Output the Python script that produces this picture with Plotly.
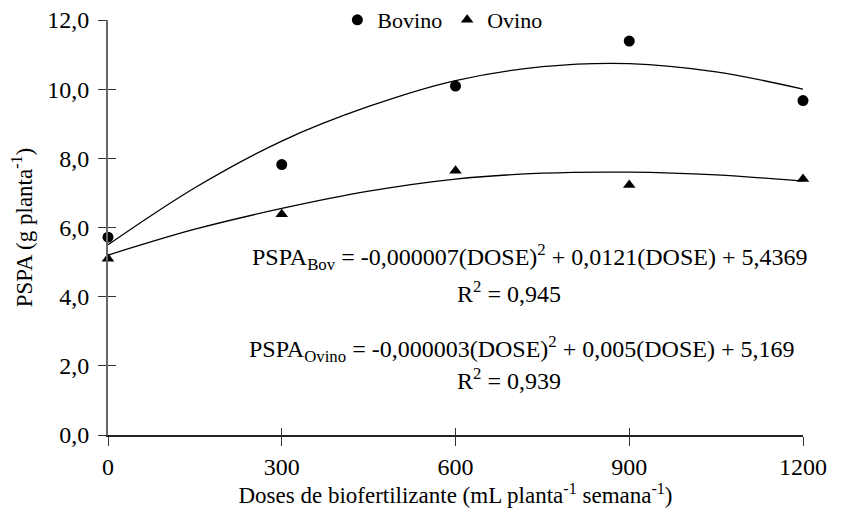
import plotly.graph_objects as go

# doses (mL planta-1 semana-1)
doses = [0, 300, 600, 900, 1200]
bovino = [5.72, 7.82, 10.09, 11.39, 9.67]
ovino = [5.10, 6.38, 7.64, 7.23, 7.40]

# fitted curves
curve_x = [0, 150, 300, 450, 600, 750, 900, 1050, 1200]
curve_bovino = [5.50, 7.15, 8.50, 9.50, 10.25, 10.65, 10.74, 10.50, 10.00]
curve_ovino = [5.20, 5.95, 6.55, 7.05, 7.40, 7.57, 7.60, 7.52, 7.34]

y_ticks = [0, 2, 4, 6, 8, 10, 12]

FONT = "Liberation Serif"
font24 = dict(family=FONT, size=24, color="black")
font23 = dict(family=FONT, size=23, color="black")

fig = go.Figure()

for ys in (curve_bovino, curve_ovino):
    fig.add_trace(go.Scatter(
        x=curve_x, y=ys, mode="lines", line=dict(color="black", width=1.3, shape="spline"),
        showlegend=False, hoverinfo="skip"
    ))

fig.add_trace(go.Scatter(
    x=doses, y=bovino, mode="markers", name="Bovino",
    marker=dict(symbol="circle", size=11, color="black"), cliponaxis=False
))
fig.add_trace(go.Scatter(
    x=doses, y=ovino, mode="markers", name="Ovino",
    marker=dict(symbol="triangle-up", size=11, color="black"), cliponaxis=False
))

# invisible trace so the overlay axes (inner tick halves) get drawn
fig.add_trace(go.Scatter(x=[0], y=[0], xaxis="x2", yaxis="y2", mode="markers",
                         marker=dict(opacity=0), showlegend=False, hoverinfo="skip"))

equations = [
    ("PSPA<sub>Bov</sub> = -0,000007(DOSE)<sup>2</sup> + 0,0121(DOSE) + 5,4369", 728, 5.16),
    ("R<sup>2</sup> = 0,945", 693, 4.13),
    ("PSPA<sub>Ovino</sub> = -0,000003(DOSE)<sup>2</sup> + 0,005(DOSE) + 5,169", 714, 2.48),
    ("R<sup>2</sup> = 0,939", 693, 1.62),
]
for text, x, y in equations:
    fig.add_annotation(x=x, y=y, text=text, showarrow=False, font=font24)

# page body has an 8px margin, so the figure is 8px smaller and margins shifted
fig.update_layout(
    width=853, height=507,
    margin=dict(l=100, r=58, t=12, b=80, autoexpand=False),
    plot_bgcolor="white", paper_bgcolor="white",
    separators=",.",
    font=font23,
    legend=dict(orientation="h", x=0.33, y=1.0, xanchor="left", yanchor="middle",
                font=dict(family=FONT, size=22, color="black"), itemwidth=30,
                bgcolor="rgba(0,0,0,0)"),
    xaxis=dict(
        range=[0, 1200], tickvals=doses, ticks="outside", ticklen=9, tickwidth=1.2,
        tickcolor="#333", showline=True, linecolor="#222", linewidth=1.5,
        showgrid=False, zeroline=False, tickfont=font24, ticklabeloverflow="allow",
        title=dict(text="Doses de biofertilizante (mL planta<sup>-1</sup> semana<sup>-1</sup>)",
                   standoff=6, font=font23),
    ),
    yaxis=dict(
        range=[0, 12], tickvals=y_ticks, tickformat=".1f", ticks="outside", ticklen=8,
        tickwidth=1.2, tickcolor="#333", showline=True, linecolor="#666", linewidth=2,
        showgrid=False, zeroline=False, ticklabelstandoff=4, tickfont=font24,
        ticklabeloverflow="allow",
        title=dict(text="PSPA (g planta<sup>-1</sup>)", standoff=8, font=font23),
    ),
    xaxis2=dict(range=[0, 1200], overlaying="x", tickvals=doses, ticks="inside", ticklen=7,
                tickwidth=1.2, tickcolor="#333", showticklabels=False, showgrid=False,
                zeroline=False, showline=False, anchor="y2"),
    yaxis2=dict(range=[0, 12], overlaying="y", tickvals=y_ticks, ticks="inside", ticklen=8,
                tickwidth=1.2, tickcolor="#333", showticklabels=False, showgrid=False,
                zeroline=False, showline=False, anchor="x2"),
)

fig.write_html("out.html")
